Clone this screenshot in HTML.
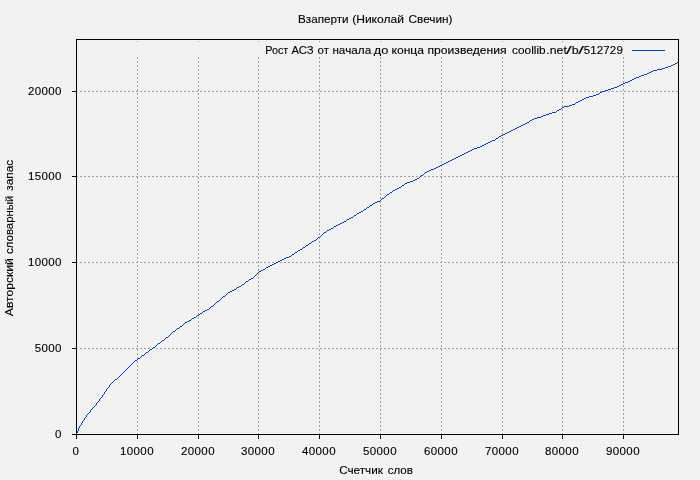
<!DOCTYPE html>
<html lang="ru"><head><meta charset="utf-8"><title>Взаперти (Николай Свечин)</title>
<style>html,body{margin:0;padding:0;background:#f2f2f2;overflow:hidden}svg{display:block;will-change:transform;transform:translateZ(0)}text{font-family:"Liberation Sans",sans-serif;font-size:11.5px;fill:#000;stroke:#000;stroke-width:0.12px}</style></head><body>
<svg width="700" height="480" viewBox="0 0 700 480">
<rect x="0" y="0" width="700" height="480" fill="#f2f2f2"/>
<g stroke="#a0a0a0" stroke-width="1" shape-rendering="crispEdges" fill="none">
<line x1="76" y1="348.5" x2="678" y2="348.5" stroke-dasharray="2 2"/>
<line x1="76" y1="262.5" x2="678" y2="262.5" stroke-dasharray="2 2"/>
<line x1="76" y1="176.5" x2="678" y2="176.5" stroke-dasharray="2 2"/>
<line x1="76" y1="91.5" x2="678" y2="91.5" stroke-dasharray="2 2"/>
<line x1="137.5" y1="435" x2="137.5" y2="57" stroke-dasharray="2 2"/>
<line x1="137.5" y1="41" x2="137.5" y2="42" />
<line x1="198.5" y1="435" x2="198.5" y2="57" stroke-dasharray="2 2"/>
<line x1="198.5" y1="41" x2="198.5" y2="42" />
<line x1="258.5" y1="435" x2="258.5" y2="57" stroke-dasharray="2 2"/>
<line x1="258.5" y1="41" x2="258.5" y2="42" />
<line x1="319.5" y1="435" x2="319.5" y2="57" stroke-dasharray="2 2"/>
<line x1="319.5" y1="41" x2="319.5" y2="42" />
<line x1="380.5" y1="435" x2="380.5" y2="57" stroke-dasharray="2 2"/>
<line x1="380.5" y1="41" x2="380.5" y2="42" />
<line x1="441.5" y1="435" x2="441.5" y2="57" stroke-dasharray="2 2"/>
<line x1="441.5" y1="41" x2="441.5" y2="42" />
<line x1="502.5" y1="435" x2="502.5" y2="57" stroke-dasharray="2 2"/>
<line x1="502.5" y1="41" x2="502.5" y2="42" />
<line x1="562.5" y1="435" x2="562.5" y2="57" stroke-dasharray="2 2"/>
<line x1="562.5" y1="41" x2="562.5" y2="42" />
<line x1="623.5" y1="435" x2="623.5" y2="57" stroke-dasharray="2 2"/>
<line x1="623.5" y1="41" x2="623.5" y2="42" />
</g>
<g stroke="#000" stroke-width="1" shape-rendering="crispEdges" fill="none">
<rect x="76.5" y="39.5" width="602" height="395"/>
<line x1="72" y1="434.5" x2="76" y2="434.5"/>
<line x1="72" y1="348.5" x2="76" y2="348.5"/>
<line x1="72" y1="262.5" x2="76" y2="262.5"/>
<line x1="72" y1="176.5" x2="76" y2="176.5"/>
<line x1="72" y1="91.5" x2="76" y2="91.5"/>
<line x1="76.5" y1="434" x2="76.5" y2="439"/>
<line x1="137.5" y1="434" x2="137.5" y2="439"/>
<line x1="198.5" y1="434" x2="198.5" y2="439"/>
<line x1="258.5" y1="434" x2="258.5" y2="439"/>
<line x1="319.5" y1="434" x2="319.5" y2="439"/>
<line x1="380.5" y1="434" x2="380.5" y2="439"/>
<line x1="441.5" y1="434" x2="441.5" y2="439"/>
<line x1="502.5" y1="434" x2="502.5" y2="439"/>
<line x1="562.5" y1="434" x2="562.5" y2="439"/>
<line x1="623.5" y1="434" x2="623.5" y2="439"/>
</g>
<path d="M677 62h1v1h-1zM675 63h2v1h-2zM673 64h2v1h-2zM671 65h2v1h-2zM668 66h3v1h-3zM665 67h3v1h-3zM662 68h3v1h-3zM657 69h5v1h-5zM653 70h4v1h-4zM651 71h2v1h-2zM649 72h2v1h-2zM647 73h2v1h-2zM644 74h3v1h-3zM641 75h3v1h-3zM639 76h2v1h-2zM636 77h3v1h-3zM634 78h2v1h-2zM632 79h2v1h-2zM630 80h2v1h-2zM628 81h2v1h-2zM625 82h3v1h-3zM623 83h2v1h-2zM621 84h2v1h-2zM619 85h2v1h-2zM617 86h2v1h-2zM614 87h3v1h-3zM611 88h3v1h-3zM608 89h3v1h-3zM605 90h3v1h-3zM602 91h3v1h-3zM600 92h2v1h-2zM599 93h1v1h-1zM596 94h3v1h-3zM593 95h3v1h-3zM589 96h4v1h-4zM586 97h3v1h-3zM584 98h2v1h-2zM582 99h2v1h-2zM580 100h2v1h-2zM578 101h2v1h-2zM576 102h2v1h-2zM575 103h1v1h-1zM572 104h3v1h-3zM569 105h3v1h-3zM564 106h5v1h-5zM562 107h2v1h-2zM561 108h1v1h-1zM559 109h2v1h-2zM557 110h2v1h-2zM556 111h1v1h-1zM552 112h4v1h-4zM549 113h3v1h-3zM546 114h3v1h-3zM543 115h3v1h-3zM541 116h2v1h-2zM537 117h4v1h-4zM534 118h3v1h-3zM532 119h2v1h-2zM530 120h2v1h-2zM529 121h1v1h-1zM527 122h2v1h-2zM525 123h2v1h-2zM523 124h2v1h-2zM521 125h2v1h-2zM519 126h2v1h-2zM517 127h2v1h-2zM515 128h2v1h-2zM513 129h2v1h-2zM511 130h2v1h-2zM509 131h2v1h-2zM507 132h2v1h-2zM505 133h2v1h-2zM503 134h2v1h-2zM501 135h2v1h-2zM499 136h2v1h-2zM498 137h1v1h-1zM496 138h2v1h-2zM495 139h1v1h-1zM492 140h3v1h-3zM490 141h2v1h-2zM488 142h2v1h-2zM486 143h2v1h-2zM484 144h2v1h-2zM482 145h2v1h-2zM480 146h2v1h-2zM477 147h3v1h-3zM474 148h3v1h-3zM472 149h2v1h-2zM470 150h2v1h-2zM468 151h2v1h-2zM466 152h2v1h-2zM464 153h2v1h-2zM462 154h2v1h-2zM460 155h2v1h-2zM458 156h2v1h-2zM456 157h2v1h-2zM454 158h2v1h-2zM452 159h2v1h-2zM450 160h2v1h-2zM448 161h2v1h-2zM446 162h2v1h-2zM444 163h2v1h-2zM442 164h2v1h-2zM440 165h2v1h-2zM438 166h2v1h-2zM436 167h2v1h-2zM434 168h2v1h-2zM431 169h3v1h-3zM429 170h2v1h-2zM427 171h2v1h-2zM425 172h2v1h-2zM424 173h1v1h-1zM423 174h1v1h-1zM421 175h2v1h-2zM420 176h1v1h-1zM419 177h1v1h-1zM417 178h2v1h-2zM415 179h2v1h-2zM413 180h2v1h-2zM410 181h3v1h-3zM407 182h3v1h-3zM405 183h2v1h-2zM404 184h1v1h-1zM402 185h2v1h-2zM401 186h1v1h-1zM399 187h2v1h-2zM397 188h2v1h-2zM395 189h2v1h-2zM393 190h2v1h-2zM392 191h1v1h-1zM390 192h2v1h-2zM389 193h1v1h-1zM387 194h2v1h-2zM386 195h1v1h-1zM385 196h1v1h-1zM384 197h1v1h-1zM382 198h2v1h-2zM381 199h1v1h-1zM380 200h1v1h-1zM377 201h3v1h-3zM375 202h2v1h-2zM373 203h2v1h-2zM372 204h1v1h-1zM370 205h2v1h-2zM369 206h1v1h-1zM367 207h2v1h-2zM366 208h1v1h-1zM364 209h2v1h-2zM363 210h1v1h-1zM361 211h2v1h-2zM359 212h2v1h-2zM357 213h2v1h-2zM356 214h1v1h-1zM354 215h2v1h-2zM353 216h1v1h-1zM351 217h2v1h-2zM349 218h2v1h-2zM347 219h2v1h-2zM346 220h1v1h-1zM344 221h2v1h-2zM342 222h2v1h-2zM340 223h2v1h-2zM338 224h2v1h-2zM336 225h2v1h-2zM334 226h2v1h-2zM333 227h1v1h-1zM331 228h2v1h-2zM329 229h2v1h-2zM327 230h2v1h-2zM326 231h1v1h-1zM324 232h2v1h-2zM323 233h1v1h-1zM322 234h1v1h-1zM321 235h1v1h-1zM320 236h1v1h-1zM318 237h2v1h-2zM317 238h1v1h-1zM316 239h1v1h-1zM314 240h2v1h-2zM312 241h2v1h-2zM311 242h1v1h-1zM309 243h2v1h-2zM308 244h1v1h-1zM306 245h2v1h-2zM305 246h1v1h-1zM303 247h2v1h-2zM302 248h1v1h-1zM300 249h2v1h-2zM298 250h2v1h-2zM297 251h1v1h-1zM295 252h2v1h-2zM294 253h1v1h-1zM292 254h2v1h-2zM291 255h1v1h-1zM289 256h2v1h-2zM286 257h3v1h-3zM284 258h2v1h-2zM282 259h2v1h-2zM280 260h2v1h-2zM278 261h2v1h-2zM276 262h2v1h-2zM274 263h2v1h-2zM272 264h2v1h-2zM270 265h2v1h-2zM268 266h2v1h-2zM266 267h2v1h-2zM265 268h1v1h-1zM263 269h2v1h-2zM261 270h2v1h-2zM259 271h2v1h-2zM258 272h1v1h-1zM257 273h1v1h-1zM256 274h1v1h-1zM255 275h1v1h-1zM254 276h1v1h-1zM253 277h1v1h-1zM251 278h2v1h-2zM249 279h2v1h-2zM248 280h1v1h-1zM246 281h2v1h-2zM245 282h1v1h-1zM244 283h1v1h-1zM242 284h2v1h-2zM241 285h1v1h-1zM239 286h2v1h-2zM237 287h2v1h-2zM236 288h1v1h-1zM234 289h2v1h-2zM232 290h2v1h-2zM230 291h2v1h-2zM228 292h2v1h-2zM227 293h1v1h-1zM226 294h1v1h-1zM225 295h1v1h-1zM223 296h2v1h-2zM222 297h1v1h-1zM221 298h1v1h-1zM220 299h1v1h-1zM219 300h1v1h-1zM217 301h2v1h-2zM216 302h1v1h-1zM215 303h1v1h-1zM214 304h1v1h-1zM213 305h1v1h-1zM211 306h2v1h-2zM210 307h1v1h-1zM209 308h1v1h-1zM207 309h2v1h-2zM205 310h2v1h-2zM203 311h2v1h-2zM202 312h1v1h-1zM200 313h2v1h-2zM199 314h1v1h-1zM197 315h2v1h-2zM196 316h1v1h-1zM194 317h2v1h-2zM192 318h2v1h-2zM191 319h1v1h-1zM189 320h2v1h-2zM187 321h2v1h-2zM185 322h2v1h-2zM184 323h1v1h-1zM183 324h1v1h-1zM182 325h1v1h-1zM180 326h2v1h-2zM179 327h1v1h-1zM177 328h2v1h-2zM176 329h1v1h-1zM175 330h1v1h-1zM173 331h2v1h-2zM172 332h1v1h-1zM171 333h1v1h-1zM170 334h1v1h-1zM169 335h1v1h-1zM168 336h1v1h-1zM166 337h2v1h-2zM165 338h1v1h-1zM164 339h1v1h-1zM162 340h2v1h-2zM161 341h1v1h-1zM160 342h1v1h-1zM158 343h2v1h-2zM157 344h1v1h-1zM156 345h1v1h-1zM155 346h1v1h-1zM153 347h2v1h-2zM152 348h1v1h-1zM150 349h2v1h-2zM149 350h1v1h-1zM148 351h1v1h-1zM146 352h2v1h-2zM145 353h1v1h-1zM144 354h1v1h-1zM142 355h2v1h-2zM141 356h1v1h-1zM140 357h1v1h-1zM138 358h2v1h-2zM137 359h1v1h-1zM135 360h2v1h-2zM134 361h1v1h-1zM133 362h1v1h-1zM132 363h1v1h-1zM131 364h1v1h-1zM130 365h1v1h-1zM129 366h1v1h-1zM128 367h1v1h-1zM127 368h1v1h-1zM126 369h1v1h-1zM125 370h1v1h-1zM124 371h1v1h-1zM123 372h1v1h-1zM122 373h1v1h-1zM121 374h1v1h-1zM120 375h1v1h-1zM119 376h1v1h-1zM118 377h1v1h-1zM117 378h1v1h-1zM115 379h2v1h-2zM114 380h1v1h-1zM113 381h1v1h-1zM112 382h1v1h-1zM111 383h1v1h-1zM110 384h1v1h-1zM109 385h1v1h-1zM109 386h1v1h-1zM108 387h1v1h-1zM107 388h1v1h-1zM106 389h1v1h-1zM106 390h1v1h-1zM105 391h1v1h-1zM104 392h1v1h-1zM104 393h1v1h-1zM103 394h1v1h-1zM102 395h1v1h-1zM102 396h1v1h-1zM101 397h1v1h-1zM100 398h1v1h-1zM99 399h1v1h-1zM99 400h1v1h-1zM98 401h1v1h-1zM97 402h1v1h-1zM96 403h1v1h-1zM96 404h1v1h-1zM95 405h1v1h-1zM94 406h1v1h-1zM93 407h1v1h-1zM92 408h1v1h-1zM91 409h1v1h-1zM90 410h1v1h-1zM90 411h1v1h-1zM89 412h1v1h-1zM88 413h1v1h-1zM87 414h1v1h-1zM86 415h1v1h-1zM86 416h1v1h-1zM85 417h1v1h-1zM84 418h1v1h-1zM84 419h1v1h-1zM83 420h1v1h-1zM82 421h1v1h-1zM82 422h1v1h-1zM81 423h1v1h-1zM81 424h1v1h-1zM80 425h1v1h-1zM79 426h1v1h-1zM79 427h1v1h-1zM78 428h1v1h-1zM78 429h1v1h-1zM78 430h1v1h-1zM77 431h1v1h-1zM77 432h1v1h-1zM76 433h1v1h-1z" fill="#0a42aa" shape-rendering="crispEdges"/>
<line x1="632" y1="50.5" x2="665" y2="50.5" stroke="#0a42aa" stroke-width="1" shape-rendering="crispEdges"/>
<text x="298.0" y="23" text-anchor="start" textLength="50.6" lengthAdjust="spacingAndGlyphs">Взаперти</text>
<text x="352.2" y="23" text-anchor="start" textLength="51.7" lengthAdjust="spacingAndGlyphs">(Николай</text>
<text x="408.5" y="23" text-anchor="start" textLength="44.0" lengthAdjust="spacingAndGlyphs">Свечин)</text>
<text x="265.2" y="54" text-anchor="start" textLength="23.1" lengthAdjust="spacingAndGlyphs">Рост</text>
<text x="291.5" y="54" text-anchor="start" textLength="22.2" lengthAdjust="spacingAndGlyphs">АСЗ</text>
<text x="317.5" y="54" text-anchor="start" textLength="11.4" lengthAdjust="spacingAndGlyphs">от</text>
<text x="332.4" y="54" text-anchor="start" textLength="38.8" lengthAdjust="spacingAndGlyphs">начала</text>
<text x="373.8" y="54" text-anchor="start" textLength="14.5" lengthAdjust="spacingAndGlyphs">до</text>
<text x="391.5" y="54" text-anchor="start" textLength="32.5" lengthAdjust="spacingAndGlyphs">конца</text>
<text x="427.5" y="54" text-anchor="start" textLength="79.1" lengthAdjust="spacingAndGlyphs">произведения</text>
<text x="512.1" y="54" text-anchor="start" textLength="33.6" lengthAdjust="spacingAndGlyphs">coollib</text>
<text x="546.3" y="54" text-anchor="start" textLength="20.6" lengthAdjust="spacingAndGlyphs">.net</text>
<text x="566.0" y="54" text-anchor="start" textLength="5.7" lengthAdjust="spacingAndGlyphs">/</text>
<text x="571.8" y="54" text-anchor="start" textLength="6.9" lengthAdjust="spacingAndGlyphs">b</text>
<text x="578.2" y="54" text-anchor="start" textLength="5.7" lengthAdjust="spacingAndGlyphs">/</text>
<text x="583.7" y="54" text-anchor="start" style="letter-spacing:0.15px">512729</text>
<text x="61.9" y="438" text-anchor="end" style="letter-spacing:0.38px">0</text>
<text x="61.9" y="352" text-anchor="end" style="letter-spacing:0.38px">5000</text>
<text x="61.9" y="266" text-anchor="end" style="letter-spacing:0.38px">10000</text>
<text x="61.9" y="180" text-anchor="end" style="letter-spacing:0.38px">15000</text>
<text x="61.9" y="95" text-anchor="end" style="letter-spacing:0.38px">20000</text>
<text x="76.0" y="455" text-anchor="middle" style="letter-spacing:0.38px">0</text>
<text x="137.0" y="455" text-anchor="middle" style="letter-spacing:0.38px">10000</text>
<text x="198.0" y="455" text-anchor="middle" style="letter-spacing:0.38px">20000</text>
<text x="258.0" y="455" text-anchor="middle" style="letter-spacing:0.38px">30000</text>
<text x="319.0" y="455" text-anchor="middle" style="letter-spacing:0.38px">40000</text>
<text x="380.0" y="455" text-anchor="middle" style="letter-spacing:0.38px">50000</text>
<text x="441.0" y="455" text-anchor="middle" style="letter-spacing:0.38px">60000</text>
<text x="502.0" y="455" text-anchor="middle" style="letter-spacing:0.38px">70000</text>
<text x="562.0" y="455" text-anchor="middle" style="letter-spacing:0.38px">80000</text>
<text x="623.0" y="455" text-anchor="middle" style="letter-spacing:0.38px">90000</text>
<text x="339.2" y="474" text-anchor="start" textLength="43.7" lengthAdjust="spacingAndGlyphs">Счетчик</text>
<text x="387.7" y="474" text-anchor="start" textLength="25.2" lengthAdjust="spacingAndGlyphs">слов</text>
<g transform="translate(12.6,315.7) rotate(-90)">
<text x="-0.5" y="0" text-anchor="start" textLength="58.0" lengthAdjust="spacingAndGlyphs">Авторский</text>
<text x="61.8" y="0" text-anchor="start" textLength="58.2" lengthAdjust="spacingAndGlyphs">словарный</text>
<text x="124.9" y="0" text-anchor="start" textLength="31.0" lengthAdjust="spacingAndGlyphs">запас</text>
</g>
</svg></body></html>
